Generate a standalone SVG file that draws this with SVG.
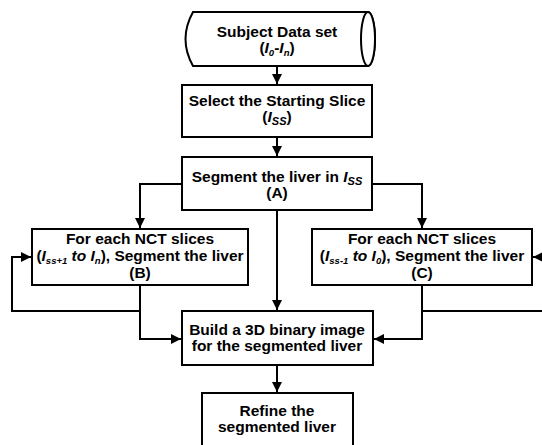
<svg xmlns="http://www.w3.org/2000/svg" width="542" height="445" viewBox="0 0 542 445">
<style>
.box{fill:#fff;stroke:#000;stroke-width:2}
.ln{fill:none;stroke:#000;stroke-width:2}
text{font-family:"Liberation Sans",Arial,sans-serif;font-weight:bold;font-size:15.5px;fill:#000;text-anchor:middle}
.i{font-style:italic}
.s{font-style:italic;font-size:9.5px}
</style>
<defs>
<marker id="ah" viewBox="0 0 10 10" refX="10" refY="5" markerWidth="5" markerHeight="5" orient="auto" markerUnits="strokeWidth">
<path d="M0,0 L10,5 L0,10 z" fill="#000"/>
</marker>
</defs>
<rect width="542" height="445" fill="#fff"/>
<g id="connectors">
<line class="ln" x1="277" y1="66" x2="277" y2="84" marker-end="url(#ah)"/>
<line class="ln" x1="277" y1="137" x2="277" y2="156" marker-end="url(#ah)"/>
<polyline class="ln" points="182,184 140,184 140,228" marker-end="url(#ah)"/>
<polyline class="ln" points="372,184 422,184 422,228" marker-end="url(#ah)"/>
<line class="ln" x1="277" y1="210" x2="277" y2="310" marker-end="url(#ah)"/>
<polyline class="ln" points="140,285 140,339 181,339" marker-end="url(#ah)"/>
<polyline class="ln" points="140,311 12,311 12,257 31,257" marker-end="url(#ah)"/>
<polyline class="ln" points="422,285 422,339 374,339" marker-end="url(#ah)"/>
<polyline class="ln" points="422,311 543,311"/>
<line class="ln" x1="543" y1="257" x2="533" y2="257" marker-end="url(#ah)"/>
<line class="ln" x1="277" y1="365" x2="277" y2="392" marker-end="url(#ah)"/>
</g>
<g id="subject">
<path class="box" d="M193,12 L368,12 A7,27 0 0 1 368,66 L193,66 Q178,39 193,12 z"/>
<ellipse class="box" cx="368" cy="39" rx="7" ry="27"/>
<text x="277" y="37">Subject Data set</text>
<text x="277" y="53">(<tspan class="i">I</tspan><tspan class="s" dy="3">0</tspan><tspan dy="-3">-</tspan><tspan class="i">I</tspan><tspan class="s" dy="3">n</tspan><tspan dy="-3">)</tspan></text>
</g>
<g id="select">
<rect class="box" x="182" y="85" width="190" height="52"/>
<text x="277" y="106">Select the Starting Slice</text>
<text x="277" y="122">(<tspan class="i">I</tspan><tspan class="s" dy="3" style="font-size:11px">SS</tspan><tspan dy="-3">)</tspan></text>
</g>
<g id="segmentA">
<rect class="box" x="182" y="157" width="190" height="53"/>
<text x="277" y="182">Segment the liver in <tspan class="i">I</tspan><tspan class="s" dy="3" style="font-size:11px">SS</tspan></text>
<text x="277" y="198">(A)</text>
</g>
<g id="segmentB">
<rect class="box" x="32" y="229" width="216" height="56"/>
<text x="140" y="244">For each NCT slices</text>
<text x="140" y="261">(<tspan class="i">I</tspan><tspan class="s" dy="3">ss+1</tspan><tspan class="i" dy="-3"> to I</tspan><tspan class="s" dy="3">n</tspan><tspan dy="-3">), Segment the liver</tspan></text>
<text x="140" y="278">(B)</text>
</g>
<g id="segmentC">
<rect class="box" x="312" y="229" width="220" height="56"/>
<text x="422" y="244">For each NCT slices</text>
<text x="422" y="261">(<tspan class="i">I</tspan><tspan class="s" dy="3">ss-1</tspan><tspan class="i" dy="-3"> to I</tspan><tspan class="s" dy="3">0</tspan><tspan dy="-3">), Segment the liver</tspan></text>
<text x="422" y="278">(C)</text>
</g>
<g id="build">
<rect class="box" x="182" y="311" width="191" height="54"/>
<text x="277" y="335">Build a 3D binary image</text>
<text x="277" y="351">for the segmented liver</text>
</g>
<g id="refine">
<rect class="box" x="202" y="393" width="151" height="60"/>
<text x="277" y="416">Refine the</text>
<text x="277" y="432">segmented liver</text>
</g>
</svg>
